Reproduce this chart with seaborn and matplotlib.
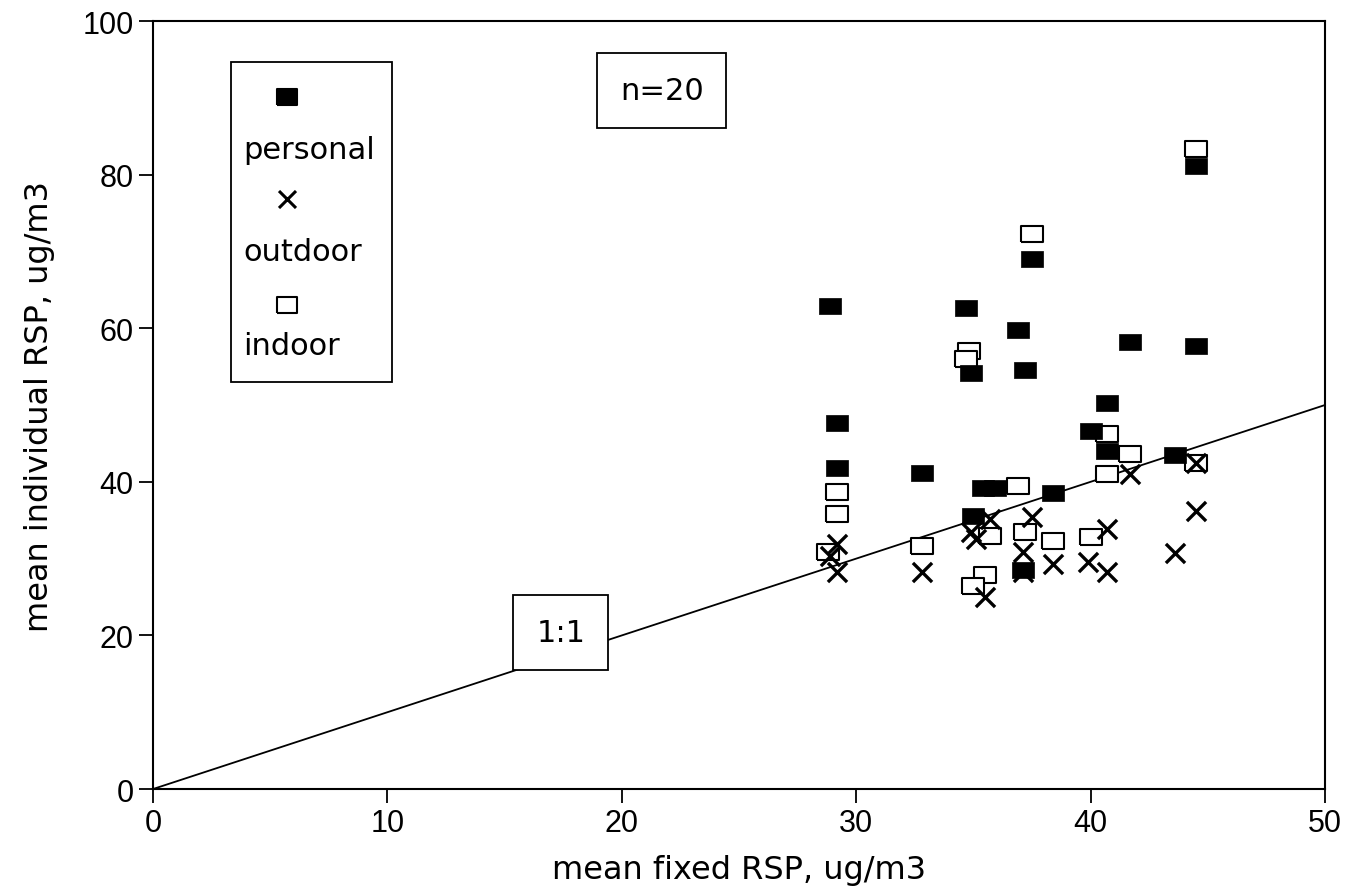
import matplotlib
matplotlib.use("Agg")
import matplotlib.pyplot as plt
import seaborn as sns
import pandas as pd
from matplotlib.patches import Rectangle

# values (mean fixed RSP vs mean individual RSP, ug/m3)
personal_x = [28.9, 29.2, 29.2, 32.8, 34.7, 34.9, 35.0, 35.4, 35.9, 36.9,
              37.2, 37.5, 37.1, 38.4, 40.0, 40.7, 40.7, 41.7, 43.6, 44.5, 44.5]
personal_y = [62.9, 47.7, 41.8, 41.1, 62.6, 54.2, 35.5, 39.2, 39.2, 59.8,
              54.6, 69.0, 28.5, 38.5, 46.6, 50.3, 44.0, 58.2, 43.5, 81.1, 57.7]

outdoor_x = [29.2, 28.9, 29.2, 32.8, 34.9, 35.1, 35.7, 37.5, 37.1, 37.1,
             38.4, 39.9, 35.5, 40.7, 40.7, 41.7, 43.6, 44.5, 44.5]
outdoor_y = [31.9, 30.3, 28.3, 28.3, 33.5, 32.6, 35.2, 35.4, 30.9, 28.2,
             29.3, 29.5, 25.0, 33.8, 28.2, 41.0, 30.7, 36.2, 42.5]

indoor_x = [44.5, 37.5, 34.8, 34.7, 29.2, 29.2, 28.8, 32.8, 36.9, 35.7,
            37.2, 38.4, 40.0, 35.5, 35.0, 40.7, 41.7, 44.5, 40.7]
indoor_y = [83.3, 72.3, 57.0, 56.0, 38.7, 35.8, 30.9, 31.6, 39.5, 32.9,
            33.5, 32.3, 32.8, 27.9, 26.4, 46.2, 43.6, 42.5, 41.0]

# 1:1 reference line
line_x = [0, 50]
line_y = [0, 50]

x_ticks = [0, 10, 20, 30, 40, 50]
y_ticks = [0, 20, 40, 60, 80, 100]

sns.set_theme(style="ticks")
plt.rcParams["font.family"] = ["Liberation Sans", "DejaVu Sans"]
plt.rcParams["axes.linewidth"] = 1.5
plt.rcParams["text.color"] = "black"
plt.rcParams["axes.labelcolor"] = "black"
wide = ["DejaVu Sans"]  # wider face for labels, closer to the original lettering

fig = plt.figure(figsize=(13.64, 8.95), dpi=100)
ax = fig.add_axes([0.1122, 0.1173, 0.8592, 0.8581])

rect_marker = [(-1.3, -1), (1.3, -1), (1.3, 1), (-1.3, 1), (-1.3, -1)]

sns.lineplot(x=line_x, y=line_y, ax=ax, color="black", linewidth=1.3)

sns.scatterplot(x=indoor_x, y=indoor_y, ax=ax, marker=rect_marker, s=240,
                facecolor="white", edgecolor="black", linewidth=1.5, zorder=3)
sns.scatterplot(x=personal_x, y=personal_y, ax=ax, marker=rect_marker, s=240,
                color="black", edgecolor="black", linewidth=0.5, zorder=4)
sns.scatterplot(x=outdoor_x, y=outdoor_y, ax=ax, marker="x", s=190,
                color="black", linewidth=2.4, zorder=5)

ax.set_xlim(0, 50)
ax.set_ylim(0, 100)
ax.set_xticks(x_ticks)
ax.set_yticks(y_ticks)
ax.tick_params(axis="both", direction="out", length=10, width=1.3,
               labelsize=22, color="black", labelcolor="black", pad=4)
for sp in ax.spines.values():
    sp.set_color("black")
    sp.set_linewidth(1.5)

ax.set_xlabel("mean fixed RSP, ug/m3", fontsize=23, family=wide, color="black", labelpad=11)
ax.set_ylabel("mean individual RSP, ug/m3", fontsize=23, family=wide, color="black", labelpad=20)

# boxed annotations
ax.text(21.7, 91.0, "n=20", fontsize=22, family=wide, ha="center", va="center", zorder=6,
        color="black",
        bbox=dict(boxstyle="square,pad=0.75", fc="white", ec="black", lw=1.3))
ax.text(17.4, 20.4, "1:1", fontsize=22, family=wide, ha="center", va="center", zorder=6,
        color="black",
        bbox=dict(boxstyle="square,pad=0.75", fc="white", ec="black", lw=1.3))

# legend: marker on one line, label below
ax.add_patch(Rectangle((0.0666, 0.530), 0.1374, 0.4166, transform=ax.transAxes,
                       fc="white", ec="black", lw=1.3, zorder=6))
leg_items = [("personal", rect_marker, "black", 0.901, 0.833),
             ("outdoor", "x", "black", 0.768, 0.700),
             ("indoor", rect_marker, "white", 0.630, 0.578)]
for label, mk, fc, my, ty in leg_items:
    if mk == "x":
        ax.scatter([0.1143], [my], marker="x", s=150, color="black", linewidth=2.2,
                   transform=ax.transAxes, zorder=7, clip_on=False)
    else:
        ax.scatter([0.1143], [my], marker=mk, s=200, facecolor=fc, edgecolor="black",
                   linewidth=1.5, transform=ax.transAxes, zorder=7, clip_on=False)
    ax.text(0.077, ty, label, fontsize=22, family=wide, ha="left", va="center",
            color="black", transform=ax.transAxes, zorder=7)

fig.savefig("out.png", dpi=100)
